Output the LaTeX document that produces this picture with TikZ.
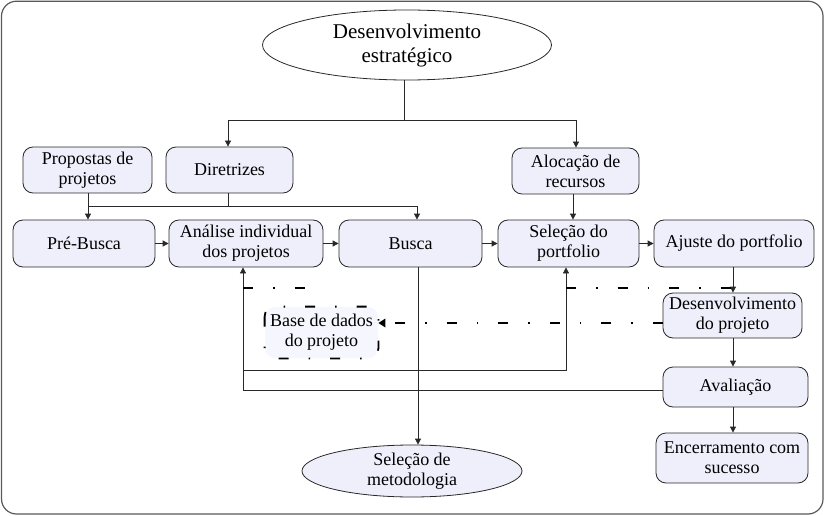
\documentclass[tikz,border=0pt]{standalone}
\usepackage{fontspec}
\setmainfont{Liberation Serif}
\usetikzlibrary{arrows.meta,shapes.geometric,calc}
\definecolor{boxfill}{RGB}{238,239,251}
\definecolor{basefill}{RGB}{246,246,254}
\definecolor{edgecol}{RGB}{40,40,40}
\tikzset{
  box/.style={draw=edgecol, line width=0.8pt, fill=boxfill, rounded corners=10pt,
    align=center, inner sep=0pt, font=\fontsize{18}{20}\selectfont},
  oval/.style={draw=edgecol, line width=0.8pt, ellipse, inner sep=0pt, align=center},
  conn/.style={draw=edgecol, line width=0.8pt},
  arr/.style={conn, -{Triangle[length=6pt,width=6pt]}},
  dd/.style={draw=black, line width=2pt, dash pattern=on 10pt off 20pt on 1.5pt off 20pt},
}
\begin{document}
\begin{tikzpicture}[x=1pt,y=-1pt]
\useasboundingbox (0,0) rectangle (825,516);
\draw[draw=black!65, line width=1.2pt, rounded corners=15pt] (1.5,1.2) rectangle (823,514);

% nodes
\node[oval, minimum width=289pt, minimum height=70pt, font=\fontsize{21}{24}\selectfont] (top) at (407,45) {Desenvolvimento\\estratégico};
\node[box, minimum width=129pt, minimum height=46pt] (prop) at (87.5,170) {Propostas de\\projetos};
\node[box, minimum width=127pt, minimum height=46pt] (dir) at (229.5,170) {Diretrizes};
\node[box, minimum width=127pt, minimum height=46pt] (aloc) at (575.5,171) {Alocação de\\recursos};
\node[box, minimum width=142pt, minimum height=47pt] (pre) at (84,243.5) {Pré-Busca};
\node[box, minimum width=154pt, minimum height=47pt] (ana) at (246,243.5) {Análise individual\\dos projetos};
\node[box, minimum width=143pt, minimum height=47pt] (bus) at (410.5,243.5) {Busca};
\node[box, minimum width=141pt, minimum height=47pt] (sel) at (568.5,243.5) {Seleção do\\portfolio};
\node[box, minimum width=160pt, minimum height=47pt] (aju) at (734,243.5) {Ajuste do portfolio};
\node[box, minimum width=139pt, minimum height=45pt] (dev) at (732.5,315.5) {Desenvolvimento\\do projeto};
\node[box, minimum width=145pt, minimum height=40pt] (ava) at (735.5,387) {Avaliação};
\node[box, minimum width=152pt, minimum height=50pt] (enc) at (732,458) {Encerramento com\\sucesso};
\node[box, draw=none, fill=basefill, minimum width=113pt, minimum height=51pt] (base) at (321.5,332.5) {Base de dados\\do projeto};
\draw[dd, line width=1.8pt, rounded corners=10pt] (base.north west) rectangle (base.south east);
\node[oval, fill=boxfill, minimum width=220pt, minimum height=52pt, font=\fontsize{18}{20}\selectfont] (met) at (412,471) {Seleção de\\metodologia};

% helper coordinates
\coordinate (t1) at (404,120);
\coordinate (c228) at (228,0);
\coordinate (c576) at (576,0);
\coordinate (c88) at (88,0);
\coordinate (c417) at (417,0);
\coordinate (c573) at (573,0);
\coordinate (c418) at (418,0);
\coordinate (d1) at (228,206);
\coordinate (d0) at (88,206);
\coordinate (a1) at (243,390);
\coordinate (a2) at (243,370);
\coordinate (s2) at (566,370);
\coordinate (x1) at (243,288);
\coordinate (x2) at (307,288);
\coordinate (x3) at (566,288);
\coordinate (x4) at (733,288);
\coordinate (y323) at (0,323);

% connectors
\draw[conn] (top.south -| t1) -- (t1);
\draw[arr] (t1) -| (dir.north -| c228);
\draw[arr] (t1) -| (aloc.north -| c576);
\draw[arr] (prop.south -| c88) -- (pre.north -| c88);
\draw[conn] (dir.south -| d1) -- (d1);
\draw[conn] (d1) -- (d0);
\draw[arr] (d1) -| (bus.north -| c417);
\draw[arr] (pre) -- (ana);
\draw[arr] (ana) -- (bus);
\draw[arr] (bus) -- (sel);
\draw[arr] (sel) -- (aju);
\draw[arr] (aloc.south -| c573) -- (sel.north -| c573);
\draw[arr] (aju.south -| x4) -- (dev.north -| x4);
\draw[arr] (dev.south -| x4) -- (ava.north -| x4);
\draw[arr] (ava.south -| x4) -- (enc.north -| x4);
\draw[arr] (ava.west |- a1) -- (a1) -- (ana.south -| a1);
\draw[arr] (a2) -- (s2) -- (sel.south -| s2);
\draw[arr] (bus.south -| c418) -- (met.north -| c418);

% dash-dot lines
\coordinate (bE) at (base.east |- y323);
\draw[dd] (dev.west |- y323) -- ($(bE)+(6,0)$);
\fill[black] (bE) -- ++(7,-4.5) -- ++(0,9) -- cycle;
\draw[dd] (x1) -- (x2);
\draw[dd] (x3) -- (x4);
\end{tikzpicture}
\end{document}
